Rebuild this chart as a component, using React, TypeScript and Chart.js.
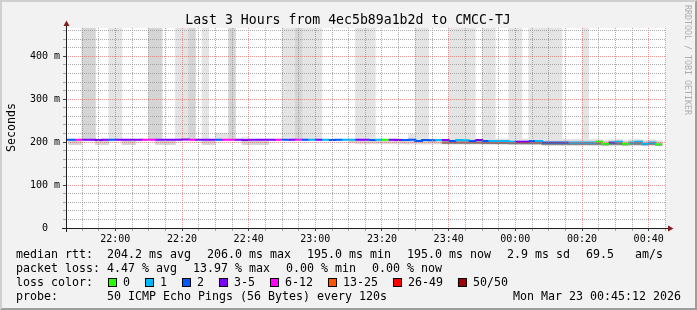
import React, { useEffect, useRef } from "react";
import { Chart, registerables } from "chart.js";

Chart.register(...registerables);

// ---------- texts ----------
const TITLE = "Last 3 Hours from 4ec5b89a1b2d to CMCC-TJ";
const Y_TITLE = "Seconds";
const WATERMARK = "RRDTOOL / TOBI OETIKER";
const statLine1 = ["median rtt:  204.2 ms avg", "206.0 ms max", "195.0 ms min", "195.0 ms now", "2.9 ms sd", "69.5   am/s"];
const statLine2 = ["packet loss: 4.47 % avg", "13.97 % max", "0.00 % min", "0.00 % now"];
const LOSS_TITLE = "loss color:";
const PROBE_TITLE = "probe:";
const PROBE_TEXT = "50 ICMP Echo Pings (56 Bytes) every 120s";
const DATE_TEXT = "Mon Mar 23 00:45:12 2026";

// ---------- loss legend ----------
const lossLabels = ["0", "1", "2", "3-5", "6-12", "13-25", "26-49", "50/50"];
const lossUpper = [0, 1, 2, 5, 12, 25, 49, 50];
const lossColors = ["#26ff00", "#00b8ff", "#0059ff", "#7e00ff", "#ff00ff", "#ff5500", "#ff0000", "#a10000"];

// ---------- axes ----------
// x: minutes after graph start (21:45:12), 3 hours shown
const X_SPAN_MIN = 180;
const X_FIRST_MINOR = 4.8; // 21:50
const X_MINOR_STEP = 5;
const xMajorTickMin = [14.8, 34.8, 54.8, 74.8, 94.8, 114.8, 134.8, 154.8, 174.8];
const xMajorLabels = ["22:00", "22:20", "22:40", "23:00", "23:20", "23:40", "00:00", "00:20", "00:40"];
const Y_MAX_MS = 466;
const Y_MINOR_STEP = 20;
const yMajorTicks = [0, 100, 200, 300, 400];
const yTickLabels = ["0", "100 m", "200 m", "300 m", "400 m"];

// samples: one per 120 s step, first one covers 21:44:00-21:46:00
const FIRST_SAMPLE_MIN = -1.2;
const STEP_MIN = 2;

// ---------- data (ms), one value per step ----------
const medianRtt = [
  205.6, 205.4, 205.8, 205.5, 205.9, 205.3, 205.6, 205.7, 205.4, 205.6,
  205.5, 205.8, 205.6, 205.9, 205.4, 205.5, 205.7, 205.6, 206.0, 205.5,
  205.6, 205.8, 205.4, 205.7, 205.9, 205.5, 205.6, 205.3, 205.5, 205.7,
  205.6, 205.4, 205.8, 205.5, 205.7, 205.6, 205.4, 205.8, 205.5, 205.6,
  205.3, 205.5, 205.6, 205.4, 205.7, 205.5, 205.2, 205.6, 205.4, 205.5,
  205.3, 205.2, 205.4, 202.7, 205.0, 204.6, 205.0, 205.2, 202.7, 205.0,
  204.6, 202.7, 205.0, 202.7, 203.0, 202.7, 202.7, 201.2, 201.2, 201.2,
  202.7, 202.7, 199.2, 199.2, 199.0, 199.2, 199.2, 199.4, 199.0, 199.2,
  201.2, 196.5, 199.2, 201.2, 196.5, 199.2, 201.2, 196.5, 199.2, 195.0,
];
const lossCount = [
  2, 2, 7, 4, 3, 4, 3, 2, 4, 3,
  4, 3, 6, 7, 4, 3, 4, 5, 4, 7,
  3, 4, 3, 2, 6, 7, 4, 3, 5, 4,
  3, 4, 6, 2, 4, 6, 2, 1, 3, 1,
  2, 2, 1, 1, 4, 3, 2, 1, 0, 4,
  3, 2, 2, 2, 2, 2, 1, 4, 2, 1,
  1, 2, 3, 2, 1, 1, 1, 1, 4, 3,
  2, 1, 2, 2, 2, 2, 1, 1, 1, 1,
  0, 0, 2, 1, 0, 1, 1, 1, 1, 0,
];
// highest ping of each step (600 = far above the visible range)
const maxRtt = [
  206.5, 206.5, 206.5, 600, 600, 206.5, 206.5, 600, 600, 206.5,
  206.5, 206.5, 206.5, 600, 600, 206.5, 206.5, 600, 600, 600,
  206.5, 600, 206.5, 221, 221, 600, 206.5, 212, 206.5, 206.5,
  206.5, 206.5, 206.5, 600, 600, 600, 600, 600, 600, 206.5,
  206.5, 206.5, 206.5, 206.5, 600, 600, 600, 206.5, 206.5, 206.5,
  208, 207, 218, 600, 600, 207, 207, 207, 600, 600,
  600, 600, 207, 600, 600, 207, 207, 600, 600, 207,
  600, 600, 600, 600, 600, 206.5, 206.5, 206.5, 600, 206.5,
  206.5, 205, 206, 206.5, 205, 206, 206.5, 205, 206, 204,
];
const minRtt = [
  204.5, 194, 194, 204.5, 204.5, 194, 194, 204.5, 204.5, 194,
  194, 204.5, 204.5, 204.5, 194, 194, 194, 204.5, 204.5, 204.5,
  204.5, 194, 194, 204.5, 204.5, 204.5, 204.5, 194, 194, 194,
  194, 204.5, 204.5, 204.5, 204.5, 204.5, 204.5, 204.5, 204.5, 204.5,
  204.5, 204.5, 204.5, 198, 196, 196, 196, 196, 196, 196,
  196, 195.5, 195.5, 195.5, 195.5, 195.5, 195.5, 195, 195, 195,
  195, 195, 195, 194.5, 194.5, 194.5, 194.5, 194, 194, 194,
  194, 194, 192.5, 192.5, 192.5, 192.5, 192.5, 192.5, 192.5, 192.5,
  192.5, 191.5, 192.5, 192.5, 191.5, 192.5, 192.5, 191.5, 192.5, 191,
];
// 10th / 90th percentile pings
const lowRtt = [
  205, 194.5, 194.5, 205, 205, 194.5, 194.5, 205, 205, 194.5,
  194.5, 205, 205, 205, 194.5, 194.5, 194.5, 205, 205, 205,
  205, 194.5, 194.5, 205, 205, 205, 205, 194.5, 194.5, 194.5,
  194.5, 205, 205, 205, 205, 205, 205, 205, 205, 205,
  205, 205, 205, 200, 198, 198, 198, 198, 198, 198,
  198, 197, 197, 197, 197, 197, 197, 196.5, 196.5, 196.5,
  196.5, 196.5, 196.5, 196, 196, 196, 196, 195.5, 195.5, 195.5,
  195.5, 195.5, 193, 193, 193, 193, 193, 193, 193, 193,
  193, 192.5, 193, 193, 192.5, 193, 193, 192.5, 193, 192,
];
const highRtt = [
  206, 206, 206, 600, 600, 206, 206, 206, 206, 206,
  206, 206, 206, 600, 600, 206, 206, 206, 206, 600,
  206, 206, 206, 206, 206, 600, 206, 206, 206, 206,
  206, 206, 206, 206, 206, 600, 206, 206, 206, 206,
  206, 206, 206, 206, 206, 206, 206, 206, 206, 206,
  206, 206, 208, 206, 206, 206, 206, 205.5, 205, 205.5,
  205.5, 205, 206, 205, 205, 205, 205, 204, 204, 204,
  204, 204, 203.5, 203.5, 203.5, 203.5, 203.5, 203.5, 203.5, 203.5,
  203.5, 202, 203.5, 203.5, 202, 203.5, 203.5, 202, 203.5, 201,
];
// quartile pings (only where they show beside the median line)
const q1Rtt = [
  null, null, null, null, null, null, null, null, null, null,
  null, null, null, null, null, null, null, null, null, null,
  null, null, null, null, null, null, null, null, null, null,
  null, null, null, null, null, null, null, null, null, null,
  null, null, null, null, null, null, null, null, null, null,
  null, null, null, null, null, null, null, 197, 197, 197,
  197, 197, 197, 196.5, 196.5, 196.5, 196.5, 196, 196, 196,
  196, 196, 194.5, 194.5, 194.5, 194.5, 194.5, 194.5, 194.5, 194.5,
  194.5, 193.5, 194.5, 194.5, 193.5, 194.5, 194.5, 193.5, 194.5, 193,
];
const q3Rtt = [
  null, null, null, null, null, null, null, null, null, null,
  null, null, null, null, null, null, null, null, null, null,
  null, null, null, null, null, null, null, null, null, null,
  null, null, null, null, null, null, null, null, null, null,
  null, null, null, null, null, null, null, null, null, null,
  null, null, null, null, null, null, null, 201, 200.5, 201,
  201, 200.5, 201, 200.5, 200.5, 200.5, 200.5, 199.5, 199.5, 199.5,
  200.5, 200.5, 198.5, 198.5, 198.5, 198.5, 198.5, 198.5, 198.5, 198.5,
  198.5, 196.5, 198.5, 198.5, 196.5, 198.5, 198.5, 196.5, 198.5, 195.5,
];

// ---------- helpers ----------
const FONT_MONO = '"DejaVu Sans Mono", monospace';
const GRID_MINOR = "rgba(143,143,143,0.75)";
const GRID_MAJOR = "rgba(222,79,79,0.6)";

function lossColorFor(n: number): string {
  for (let i = 0; i < lossUpper.length; i++) if (n <= lossUpper[i]) return lossColors[i];
  return lossColors[lossColors.length - 1];
}
const isMajorX = (v: number) => xMajorTickMin.some((m) => Math.abs(m - v) < 0.01);
const isMajorY = (v: number) => yMajorTicks.includes(v);

const stepStart = medianRtt.map((_, i) => FIRST_SAMPLE_MIN + STEP_MIN * i);
const stepCenter = stepStart.map((s) => s + STEP_MIN / 2);

function band(lo: (number | null)[], hi: (number | null)[]) {
  const out: { x: number; y: [number, number] }[] = [];
  lo.forEach((l, i) => {
    const h = hi[i];
    if (l != null && h != null) out.push({ x: stepCenter[i], y: [l, h] });
  });
  return out;
}

const medianPoints = medianRtt.map((v, i) => ({ x: stepStart[i], y: v }));
medianPoints.push({ x: stepStart[stepStart.length - 1] + STEP_MIN, y: medianRtt[medianRtt.length - 1] });

const rrdDecor = {
  id: "rrdDecor",
  beforeDraw(chart: any) {
    const { ctx, chartArea: a, width: W, height: H } = chart;
    ctx.save();
    ctx.fillStyle = "#f2f2f2";
    ctx.fillRect(0, 0, W, H);
    ctx.fillStyle = "#cfcfcf";
    ctx.beginPath();
    ctx.moveTo(0, H); ctx.lineTo(2, H - 2); ctx.lineTo(2, 2); ctx.lineTo(W - 2, 2); ctx.lineTo(W, 0); ctx.lineTo(0, 0);
    ctx.closePath(); ctx.fill();
    ctx.fillStyle = "#9e9e9e";
    ctx.beginPath();
    ctx.moveTo(2, H - 2); ctx.lineTo(W - 2, H - 2); ctx.lineTo(W - 2, 2); ctx.lineTo(W, 0); ctx.lineTo(W, H); ctx.lineTo(0, H);
    ctx.closePath(); ctx.fill();
    ctx.fillStyle = "#ffffff";
    ctx.fillRect(a.left, a.top, a.right - a.left, a.bottom - a.top);
    ctx.restore();
  },
  afterDraw(chart: any) {
    const { ctx, chartArea: a } = chart;
    ctx.save();
    // axes
    ctx.strokeStyle = "#1f1f1f";
    ctx.lineWidth = 1;
    ctx.beginPath();
    ctx.moveTo(a.left - 4, a.bottom + 0.5); ctx.lineTo(a.right + 4, a.bottom + 0.5);
    ctx.moveTo(a.left + 0.5, a.bottom + 4); ctx.lineTo(a.left + 0.5, a.top - 4);
    ctx.stroke();
    // arrows
    ctx.fillStyle = "#801f1f";
    ctx.beginPath();
    ctx.moveTo(a.right + 2, a.bottom - 2.5); ctx.lineTo(a.right + 2, a.bottom + 3.5); ctx.lineTo(a.right + 7.5, a.bottom + 0.5);
    ctx.closePath(); ctx.fill();
    ctx.beginPath();
    ctx.moveTo(a.left - 2.5, a.top - 2); ctx.lineTo(a.left + 3.5, a.top - 2); ctx.lineTo(a.left + 0.5, a.top - 7.5);
    ctx.closePath(); ctx.fill();

    ctx.fillStyle = "#000";
    // title
    ctx.font = `13.2px ${FONT_MONO}`;
    ctx.textAlign = "center";
    ctx.textBaseline = "alphabetic";
    ctx.fillText(TITLE, 348, 24);
    // y title
    ctx.font = `11.63px ${FONT_MONO}`;
    ctx.save();
    ctx.translate(14.5, 127.5);
    ctx.rotate(-Math.PI / 2);
    ctx.fillText(Y_TITLE, 0, 0);
    ctx.restore();
    // watermark
    ctx.save();
    ctx.font = `8.3px ${FONT_MONO}`;
    ctx.fillStyle = "#adadad";
    ctx.textAlign = "left";
    ctx.translate(685, 5);
    ctx.rotate(Math.PI / 2);
    ctx.fillText(WATERMARK, 0, 0);
    ctx.restore();

    // legend
    ctx.font = `11.63px ${FONT_MONO}`;
    ctx.textAlign = "left";
    ctx.fillStyle = "#000";
    let x = 16;
    for (const s of statLine1) { ctx.fillText(s, x, 258); x += ctx.measureText(s).width + 16; }
    x = 16;
    for (const s of statLine2) { ctx.fillText(s, x, 272); x += ctx.measureText(s).width + 16; }
    ctx.fillText(LOSS_TITLE, 16, 286);
    x = 108;
    lossLabels.forEach((lab, i) => {
      ctx.fillStyle = lossColors[i];
      ctx.fillRect(x, 278, 9, 9);
      ctx.strokeStyle = "#000";
      ctx.strokeRect(x + 0.5, 278.5, 8, 8);
      ctx.fillStyle = "#000";
      ctx.fillText(lab, x + 15, 286);
      x += 15 + ctx.measureText(lab).width + 15;
    });
    ctx.fillText(PROBE_TITLE, 16, 300);
    ctx.fillText(PROBE_TEXT, 107, 300);
    ctx.textAlign = "right";
    ctx.fillText(DATE_TEXT, 681, 300);
    ctx.restore();
  },
};

export default function App() {
  const ref = useRef<HTMLCanvasElement>(null);
  useEffect(() => {
    const canvas = ref.current;
    if (!canvas) return;
    const barCommon = { type: "bar" as const, grouped: false, borderWidth: 0, barPercentage: 1, categoryPercentage: 1, clip: 0 };
    const chart = new Chart(canvas, {
      type: "bar",
      data: {
        datasets: [
          {
            type: "line",
            data: medianPoints,
            stepped: "before",
            borderWidth: 2,
            pointRadius: 0,
            fill: false,
            clip: 0,
            order: 0,
            borderColor: lossColors[0],
            segment: { borderColor: (c: any) => lossColorFor(lossCount[c.p0DataIndex]) },
          } as any,
          { ...barCommon, data: band(q1Rtt, q3Rtt), backgroundColor: "#7a7a7a", order: 1 } as any,
          { ...barCommon, data: band(lowRtt, highRtt), backgroundColor: "#d5d5d5", order: 2 } as any,
          { ...barCommon, data: band(minRtt, maxRtt), backgroundColor: "#e4e4e4", order: 3 } as any,
        ],
      },
      options: {
        responsive: false,
        animation: false,
        devicePixelRatio: 1,
        events: [],
        layout: { padding: { left: 0, right: 31, top: 28, bottom: 0 } },
        plugins: { legend: { display: false }, tooltip: { enabled: false }, title: { display: false } },
        scales: {
          x: {
            type: "linear",
            min: 0,
            max: X_SPAN_MIN,
            offset: false,
            z: 1,
            afterFit: (s: any) => { s.height = 82; },
            afterBuildTicks: (s: any) => {
              const t = [];
              for (let v = X_FIRST_MINOR; v <= X_SPAN_MIN + 1e-6; v += X_MINOR_STEP) t.push({ value: Math.round(v * 10) / 10 });
              s.ticks = t;
            },
            ticks: {
              autoSkip: false,
              maxRotation: 0,
              padding: 2,
              color: "#000",
              font: { family: FONT_MONO, size: 10 },
              callback: (v: any) => {
                const j = xMajorTickMin.findIndex((m) => Math.abs(m - Number(v)) < 0.01);
                return j >= 0 ? xMajorLabels[j] : "";
              },
            },
            grid: {
              z: 1,
              offset: false,
              lineWidth: 1,
              drawTicks: true,
              tickLength: 3,
              color: (c: any) => (isMajorX(c.tick.value) ? GRID_MAJOR : GRID_MINOR),
              tickColor: (c: any) => (isMajorX(c.tick.value) ? "#444" : GRID_MINOR),
            },
            border: { display: false, dash: [1, 1] },
          } as any,
          y: {
            type: "linear",
            min: 0,
            max: Y_MAX_MS,
            z: 1,
            afterFit: (s: any) => { s.width = 66; },
            afterBuildTicks: (s: any) => {
              const t = [];
              for (let v = 0; v <= Y_MAX_MS; v += Y_MINOR_STEP) t.push({ value: v });
              s.ticks = t;
            },
            ticks: {
              autoSkip: false,
              padding: 3,
              color: "#000",
              font: { family: FONT_MONO, size: 10 },
              callback: (v: any) => {
                const j = yMajorTicks.indexOf(Number(v));
                if (j < 0) return "";
                const lab = yTickLabels[j];
                return lab.includes(" ") ? lab : lab + "  ";
              },
            },
            grid: {
              z: 1,
              lineWidth: 1,
              drawTicks: true,
              tickLength: 3,
              color: (c: any) => (isMajorY(c.tick.value) ? GRID_MAJOR : GRID_MINOR),
              tickColor: (c: any) => (isMajorY(c.tick.value) ? "#444" : GRID_MINOR),
            },
            border: { display: false, dash: [1, 1] },
          } as any,
        },
      },
      plugins: [rrdDecor],
    });
    return () => chart.destroy();
  }, []);
  return (
    <div style={{ position: "fixed", left: 0, top: 0, width: 697, height: 310 }}>
      <canvas ref={ref} width={697} height={310} style={{ width: 697, height: 310, display: "block" }} />
    </div>
  );
}
